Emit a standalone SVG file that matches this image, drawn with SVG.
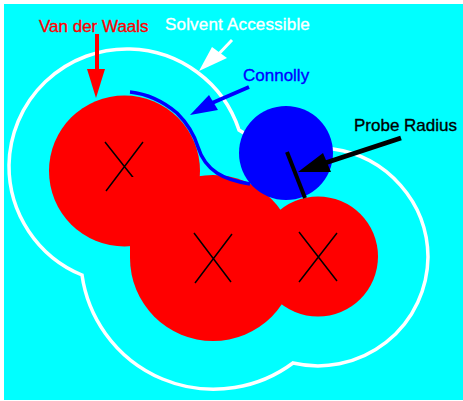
<svg xmlns="http://www.w3.org/2000/svg" width="463" height="401" viewBox="0 0 463 401">
<style>
.atom{fill:#f00}
.x{stroke:#000;stroke-width:1.5;fill:none}
text{font-family:"Liberation Sans",Arial,sans-serif;font-size:17px;stroke-width:.35px}
</style>
<rect width="463" height="401" fill="#fff"/>
<rect x="4" y="4" width="459" height="396" fill="#0ff"/>
<path id="accessible-surface" d="M82 275A118 118 0 0 1 9 165A118 118 0 0 1 130 49A118 118 0 0 1 239 130L244 133L325 149L333 149A110 110 0 0 1 428 257A110 110 0 0 1 293 363A133 133 0 0 1 82 275Z" fill="none" stroke="#fff" stroke-width="3.500"/>
<g id="atom1"><circle class="atom" cx="124.500" cy="171" r="75.500"/><path class="x" d="M105 142L143 190M143 142L106 191"/></g>
<g id="atom2"><rect class="atom" x="130" y="177" width="70" height="81"/><circle class="atom" cx="213" cy="258" r="83"/><path class="x" d="M194 233L231 282M232 234L195 283"/></g>
<g id="atom3"><circle class="atom" cx="318" cy="256.500" r="60"/><path class="x" d="M299 232L337 281M337 233L299 282"/></g>
<g id="probe"><circle cx="286" cy="153" r="47" fill="#00f"/></g>
<path id="connolly-surface" d="M130 92C148 94 164 102 177 113C186 122 194 134 198 147C201 157 208 167 217 173C226 179 238 182 250 184" fill="none" stroke="#00f" stroke-width="3.500"/>
<g id="connectors">
<path d="M97 34V70" stroke="#f00" stroke-width="4"/><path d="M87 69H105L96 98Z" fill="#f00"/>
<path d="M232 40L213 60" stroke="#fff" stroke-width="3"/><path d="M199 71L212 47L227 58Z" fill="#fff"/>
<path d="M249 87L212 103" stroke="#00f" stroke-width="4"/><path d="M190 115L209 95L218 110Z" fill="#00f"/>
<path d="M401 138L325 163" stroke="#000" stroke-width="5"/><path d="M298 172L323 153L331 172Z" fill="#000"/>
<path d="M287 152L305 198" stroke="#000" stroke-width="4"/>
</g>
<g id="labels">
<text x="39" y="32" fill="#f00" stroke="#f00">Van der Waals</text>
<text x="165" y="30" fill="#fff" stroke="#fff" letter-spacing=".18">Solvent Accessible</text>
<text x="243" y="81" fill="#00f" stroke="#00f">Connolly</text>
<text x="354" y="131" fill="#000" stroke="#000">Probe Radius</text>
</g>
</svg>
